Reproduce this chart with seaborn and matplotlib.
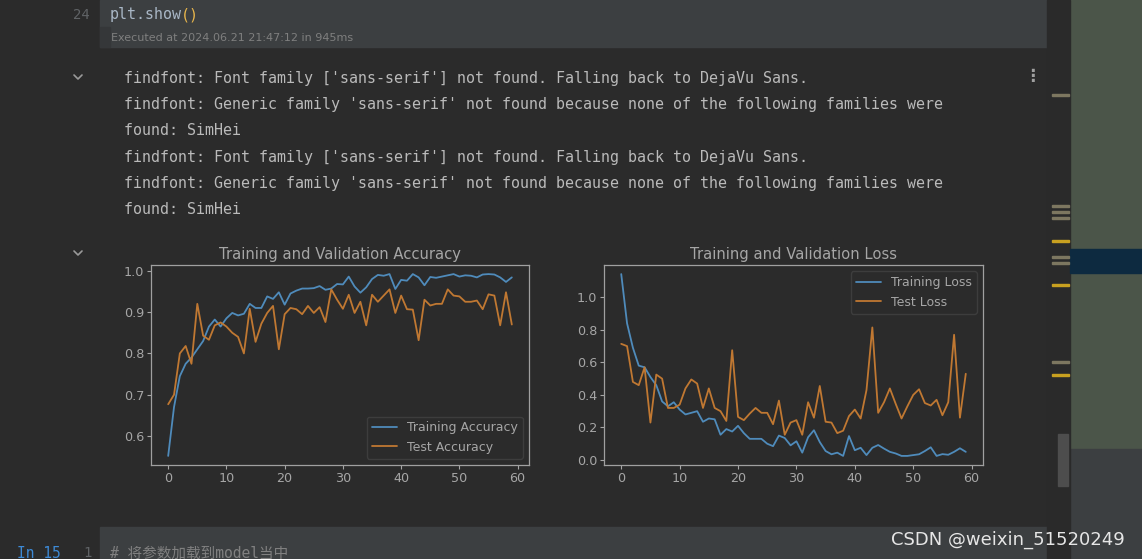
#!/usr/bin/env python3

"""Training / validation accuracy and loss curves, shown inside a dark IDE notebook output."""

import seaborn as sns
import pandas as pd
import matplotlib.pyplot as plt
from matplotlib.patches import Rectangle
from matplotlib.lines import Line2D

####################################################################################################
# DATA

epochs = list(range(60))

train_acc = [0.552, 0.670, 0.745, 0.775, 0.790, 0.810, 0.830, 0.865, 0.882, 0.865,
             0.885, 0.898, 0.892, 0.896, 0.920, 0.910, 0.910, 0.938, 0.932, 0.948,
             0.918, 0.945, 0.952, 0.957, 0.957, 0.958, 0.963, 0.954, 0.957, 0.968,
             0.967, 0.986, 0.962, 0.947, 0.960, 0.980, 0.990, 0.988, 0.992, 0.956,
             0.978, 0.976, 0.992, 0.984, 0.965, 0.985, 0.983, 0.986, 0.989, 0.992,
             0.986, 0.989, 0.988, 0.984, 0.991, 0.992, 0.991, 0.984, 0.973, 0.984]

test_acc = [0.677, 0.700, 0.800, 0.818, 0.775, 0.920, 0.843, 0.833, 0.868, 0.875,
            0.865, 0.850, 0.840, 0.800, 0.908, 0.828, 0.872, 0.898, 0.915, 0.810,
            0.895, 0.910, 0.907, 0.895, 0.915, 0.898, 0.912, 0.876, 0.955, 0.930,
            0.908, 0.942, 0.898, 0.925, 0.868, 0.942, 0.925, 0.940, 0.955, 0.898,
            0.940, 0.907, 0.906, 0.832, 0.930, 0.916, 0.920, 0.920, 0.955, 0.940,
            0.938, 0.925, 0.925, 0.928, 0.907, 0.943, 0.940, 0.868, 0.948, 0.870]

train_loss = [1.143, 0.840, 0.690, 0.580, 0.570, 0.510, 0.460, 0.360, 0.330, 0.355,
              0.310, 0.280, 0.290, 0.300, 0.235, 0.255, 0.250, 0.155, 0.190, 0.175,
              0.210, 0.165, 0.130, 0.130, 0.130, 0.100, 0.085, 0.150, 0.135, 0.090,
              0.115, 0.045, 0.140, 0.183, 0.110, 0.055, 0.035, 0.045, 0.025, 0.147,
              0.060, 0.075, 0.030, 0.075, 0.092, 0.070, 0.050, 0.040, 0.025, 0.025,
              0.030, 0.035, 0.055, 0.078, 0.025, 0.036, 0.032, 0.050, 0.072, 0.050]

test_loss = [0.714, 0.700, 0.480, 0.460, 0.570, 0.230, 0.525, 0.500, 0.320, 0.320,
             0.340, 0.440, 0.495, 0.470, 0.320, 0.440, 0.320, 0.300, 0.240, 0.675,
             0.265, 0.245, 0.285, 0.320, 0.290, 0.290, 0.220, 0.365, 0.155, 0.230,
             0.245, 0.155, 0.355, 0.260, 0.455, 0.235, 0.230, 0.165, 0.180, 0.270,
             0.310, 0.255, 0.430, 0.815, 0.290, 0.355, 0.440, 0.345, 0.255, 0.330,
             0.400, 0.435, 0.350, 0.335, 0.370, 0.275, 0.355, 0.770, 0.260, 0.530]

output_lines = [
    "findfont: Font family ['sans-serif'] not found. Falling back to DejaVu Sans.",
    "findfont: Generic family 'sans-serif' not found because none of the following families were",
    "found: SimHei",
    "findfont: Font family ['sans-serif'] not found. Falling back to DejaVu Sans.",
    "findfont: Generic family 'sans-serif' not found because none of the following families were",
    "found: SimHei",
]

####################################################################################################
# STYLE

W, H = 1142, 559
bg = "#2b2b2b"
cell_bg = "#3c3f41"
txt_grey = "#a6a6a6"
blue = "#4f8bbb"
orange = "#c07832"

sns.set_theme(style="dark")
plt.rcParams.update({
    "figure.facecolor": bg,
    "axes.facecolor": bg,
    "axes.edgecolor": "#a0a0a0",
    "axes.linewidth": 0.9,
    "axes.labelcolor": txt_grey,
    "text.color": txt_grey,
    "xtick.color": txt_grey,
    "ytick.color": txt_grey,
    "xtick.labelsize": 9.2,
    "ytick.labelsize": 9.2,
    "xtick.bottom": True,
    "ytick.left": True,
    "xtick.major.size": 3,
    "ytick.major.size": 3,
    "axes.grid": False,
})
plt.rcParams["font.family"] = ["DejaVu Sans", "Noto Sans CJK SC"]


def fx(x):
    return x / W


def fy(y):
    return 1 - y / H


fig = plt.figure(figsize=(W / 100, H / 100), dpi=100)

# IDE CHROME: code cells, scroll stripe, side panel
fig.add_artist(Rectangle((fx(100), fy(47)), fx(947), 47 / H, transform=fig.transFigure, color=cell_bg, zorder=0))
fig.add_artist(Rectangle((fx(100), fy(47)), fx(10), 20 / H, transform=fig.transFigure, color="#353739", zorder=0))
fig.add_artist(Rectangle((fx(100), fy(559)), fx(947), 32 / H, transform=fig.transFigure, color=cell_bg, zorder=0))
fig.add_artist(Rectangle((fx(1070), fy(449)), fx(72), 449 / H, transform=fig.transFigure, color="#4b5549", zorder=0))
fig.add_artist(Rectangle((fx(1070), fy(273)), fx(72), 24 / H, transform=fig.transFigure, color="#0d2a40", zorder=1))
fig.add_artist(Rectangle((fx(1070), 0), fx(72), fy(449), transform=fig.transFigure, color="#3c3f41", zorder=0))
fig.add_artist(Rectangle((fx(1047), 0), fx(23), 1, transform=fig.transFigure, color="#2a2a2a", zorder=0))
fig.add_artist(Rectangle((fx(1058), fy(486)), fx(10), 52 / H, transform=fig.transFigure, color="#4d4d4d", zorder=1))
for y_mark, c_mark in [(95, "#7d7760"), (206, "#7d7760"), (212, "#7d7760"), (218, "#7d7760"),
                       (241, "#c8a020"), (257, "#7d7760"), (263, "#7d7760"), (285, "#c8a020"),
                       (362, "#7d7760"), (375, "#c8a020")]:
    fig.add_artist(Rectangle((fx(1052), fy(y_mark + 1)), fx(17), 2 / H, transform=fig.transFigure,
                             color=c_mark, zorder=1))

# fold chevrons
for yc in [77, 253]:
    fig.add_artist(Line2D([fx(74), fx(78), fx(82)], [fy(yc - 2), fy(yc + 2), fy(yc - 2)],
                          transform=fig.transFigure, color="#9a9a9a", linewidth=1.2))

# code / output text
mono = ["DejaVu Sans Mono", "Noto Sans CJK SC"]
fig.text(fx(90), fy(15), "24", family=mono, fontsize=10, color="#606366", ha="right", va="center")
fig.text(fx(110), fy(15), "plt.show", family=mono, fontsize=10.8, color="#a9b7c6", va="center")
fig.text(fx(181), fy(15), "()", family=mono, fontsize=10.8, color="#e8b64c", va="center")
fig.text(fx(111), fy(38), "Executed at 2024.06.21 21:47:12 in 945ms", fontsize=8, color="#7f7f7f", va="center")
for i, line in enumerate(output_lines):
    fig.text(fx(124), fy(78 + i * 26.4), line, family=mono, fontsize=10.8, color="#bababa", va="center")
fig.text(fx(1032), fy(76), "\u22ee", fontsize=12, color="#a0a0a0", ha="center", va="center", weight="bold")
fig.text(fx(17), fy(553), "In 15", family=mono, fontsize=10.5, color="#3d8ad6", va="center")
fig.text(fx(92), fy(553), "1", family=mono, fontsize=10, color="#606366", ha="right", va="center")
fig.text(fx(110), fy(553), "# 将参数加载到model当中", family=mono, fontsize=10.5, color="#808080", va="center")
fig.text(fx(1125), fy(540), "CSDN @weixin_51520249", fontsize=13, color="#e6e6e6", ha="right", va="center")

# THE TWO PLOTS
acc_df = pd.DataFrame({"epoch": epochs, "train": train_acc, "test": test_acc})
loss_df = pd.DataFrame({"epoch": epochs, "train": train_loss, "test": test_loss})

ax1 = fig.add_axes([fx(151), fy(465), fx(378), 200 / H])
sns.lineplot(data=acc_df, x="epoch", y="train", color=blue, linewidth=1.3, label="Training Accuracy", ax=ax1)
sns.lineplot(data=acc_df, x="epoch", y="test", color=orange, linewidth=1.3, label="Test Accuracy", ax=ax1)
ax1.set_title("Training and Validation Accuracy", fontsize=10.6, color=txt_grey, pad=4)
ax1.legend(loc="lower right", fontsize=9, facecolor=bg, edgecolor="#3d3d3d", labelcolor=txt_grey, framealpha=1)

ax2 = fig.add_axes([fx(604), fy(465), fx(379), 200 / H])
sns.lineplot(data=loss_df, x="epoch", y="train", color=blue, linewidth=1.3, label="Training Loss", ax=ax2)
sns.lineplot(data=loss_df, x="epoch", y="test", color=orange, linewidth=1.3, label="Test Loss", ax=ax2)
ax2.set_title("Training and Validation Loss", fontsize=10.6, color=txt_grey, pad=4)
ax2.legend(loc="upper right", fontsize=9, facecolor=bg, edgecolor="#3d3d3d", labelcolor=txt_grey, framealpha=1)

for ax in (ax1, ax2):
    ax.set_xlabel("")
    ax.set_ylabel("")
    ax.set_xticks([0, 10, 20, 30, 40, 50, 60])
    ax.tick_params(pad=2, width=0.8)

plt.savefig("out.png", dpi=100, facecolor=bg)
